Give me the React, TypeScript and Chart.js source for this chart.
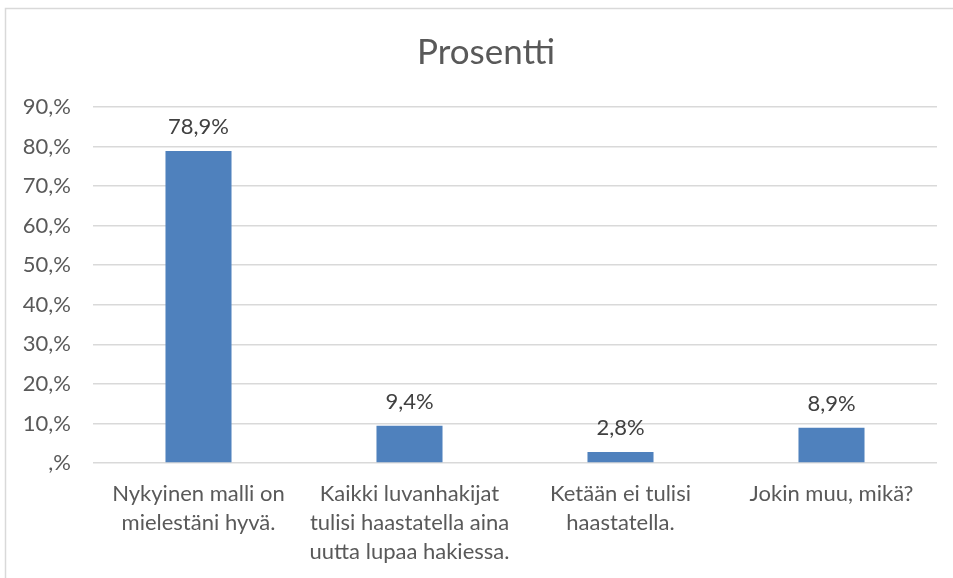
import React, { useEffect, useRef } from "react";
import { Chart, registerables } from "chart.js";

Chart.register(...registerables);

const categories: string[][] = [
  ["Nykyinen malli on", "mielestäni hyvä."],
  ["Kaikki luvanhakijat", "tulisi haastatella aina", "uutta lupaa hakiessa."],
  ["Ketään ei tulisi", "haastatella."],
  ["Jokin muu, mikä?"],
];
const values: number[] = [78.9, 9.4, 2.8, 8.9];
const valueLabels: string[] = ["78,9%", "9,4%", "2,8%", "8,9%"];
const yTickValues: number[] = [0, 10, 20, 30, 40, 50, 60, 70, 80, 90];
const yTickLabels: string[] = [",%", "10,%", "20,%", "30,%", "40,%", "50,%", "60,%", "70,%", "80,%", "90,%"];
const title = "Prosentti";

const FONT = "Lato, 'Open Sans', sans-serif";

export default function App() {
  const ref = useRef<HTMLCanvasElement | null>(null);
  useEffect(() => {
    if (!ref.current) return;
    const borderPlugin = {
      id: "outerBorder",
      beforeDraw(chart: any) {
        const ctx = chart.ctx;
        ctx.save();
        ctx.fillStyle = "#ffffff";
        ctx.fillRect(0, 0, chart.width, chart.height);
        ctx.strokeStyle = "#d9d9d9";
        ctx.lineWidth = 1.5;
        ctx.beginPath();
        ctx.moveTo(5.5, chart.height);
        ctx.lineTo(5.5, 8.5);
        ctx.lineTo(chart.width, 8.5);
        ctx.stroke();
        // title (centred on the full chart frame, which extends past the right edge)
        ctx.font = `35px ${FONT}`;
        ctx.fillStyle = "#595959";
        ctx.textAlign = "center";
        ctx.textBaseline = "middle";
        ctx.fillText(title, 486, 53);
        ctx.restore();
      },
    };
    const labelPlugin = {
      id: "dataLabels",
      afterDatasetsDraw(chart: any) {
        const ctx = chart.ctx;
        const meta = chart.getDatasetMeta(0);
        ctx.save();
        ctx.font = `22px ${FONT}`;
        ctx.fillStyle = "#404040";
        ctx.textAlign = "center";
        ctx.textBaseline = "middle";
        meta.data.forEach((bar: any, i: number) => {
          ctx.fillText(valueLabels[i], bar.x, bar.y - 24);
        });
        ctx.restore();
      },
    };
    const chart = new Chart(ref.current, {
      type: "bar",
      data: {
        labels: categories,
        datasets: [
          {
            data: values,
            backgroundColor: "#4f81bd",
            borderWidth: 0,
            categoryPercentage: 1,
            barPercentage: 0.313,
          },
        ],
      },
      options: {
        animation: false,
        responsive: false,
        maintainAspectRatio: false,
        layout: { padding: { left: 0, right: 16, top: 107, bottom: 0 } },
        plugins: {
          legend: { display: false },
          tooltip: { enabled: false },
          title: { display: false },
        },
        scales: {
          x: {
            grid: { display: false, drawTicks: false },
            border: { display: false },
            ticks: {
              color: "#595959",
              font: { family: FONT, size: 22, lineHeight: 1.32 },
              padding: 16.5,
              maxRotation: 0,
              autoSkip: false,
            },
            afterFit(scale: any) {
              scale.height = 115;
            },
          },
          y: {
            min: 0,
            max: 90,
            grid: { color: "#d9d9d9", lineWidth: 1.5, drawTicks: false },
            border: { display: false },
            afterBuildTicks(scale: any) {
              scale.ticks = yTickValues.map((v) => ({ value: v }));
            },
            ticks: {
              color: "#595959",
              font: { family: FONT, size: 22 },
              padding: 22,
              callback: (v: any) => {
                const i = yTickValues.indexOf(Number(v));
                return i >= 0 ? yTickLabels[i] : "";
              },
            },
            afterFit(scale: any) {
              scale.width = 93;
            },
          },
        },
      },
      plugins: [borderPlugin, labelPlugin],
    });
    return () => chart.destroy();
  }, []);
  return (
    <div style={{ position: "absolute", left: 0, top: 0, width: 953, height: 578 }}>
      <canvas ref={ref} width={953} height={578} style={{ width: 953, height: 578, display: "block" }} />
    </div>
  );
}
